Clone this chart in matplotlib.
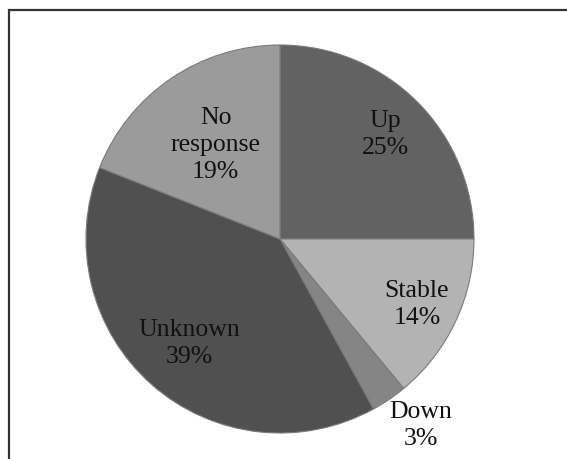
import numpy as np
import matplotlib.pyplot as plt
from matplotlib.patches import Rectangle

plt.rcParams["font.family"] = ["Liberation Serif", "DejaVu Serif"]

# data
categories = ["Up", "Stable", "Down", "Unknown", "No response"]
shares = [25, 14, 3, 39, 19]
label_text = ["Up", "Stable", "Down", "Unknown", "No\nresponse"]

# style
colors = ["#626262", "#b3b3b3", "#858585", "#505050", "#9b9b9b"]
label_dist = [0.77, 0.78, 1.2, 0.71, 0.59]
label_shift = [0, 0, 3, 0, 0]  # degrees, nudges labels like the original layout

fig = plt.figure(figsize=(5.67, 4.6), dpi=100)
ax = fig.add_axes([66.6 / 567, 6.6 / 460, 426.8 / 567, 426.8 / 460])

wedges, _ = ax.pie(
    shares,
    colors=colors,
    startangle=90,
    counterclock=False,
    radius=1.0,
    wedgeprops=dict(edgecolor="#7a7a7a", linewidth=0.8),
)
ax.set_xlim(-1.1, 1.1)
ax.set_ylim(-1.1, 1.1)
ax.set_aspect("equal")

for w, txt, val, d, s in zip(wedges, label_text, shares, label_dist, label_shift):
    ang = np.deg2rad((w.theta1 + w.theta2) / 2 + s)
    ax.text(d * np.cos(ang), d * np.sin(ang), f"{txt}\n{val}%",
            ha="center", va="center", fontsize=18.5, color="#111111",
            linespacing=1.3, clip_on=False)

# outer frame (left and top edges visible)
fig.patches.append(Rectangle((8.5 / 567, -0.1), 1.2, 1 - 11 / 460 + 0.1,
                             transform=fig.transFigure, fill=False,
                             edgecolor="#333333", linewidth=1.6))

fig.savefig("out.png", dpi=100)
